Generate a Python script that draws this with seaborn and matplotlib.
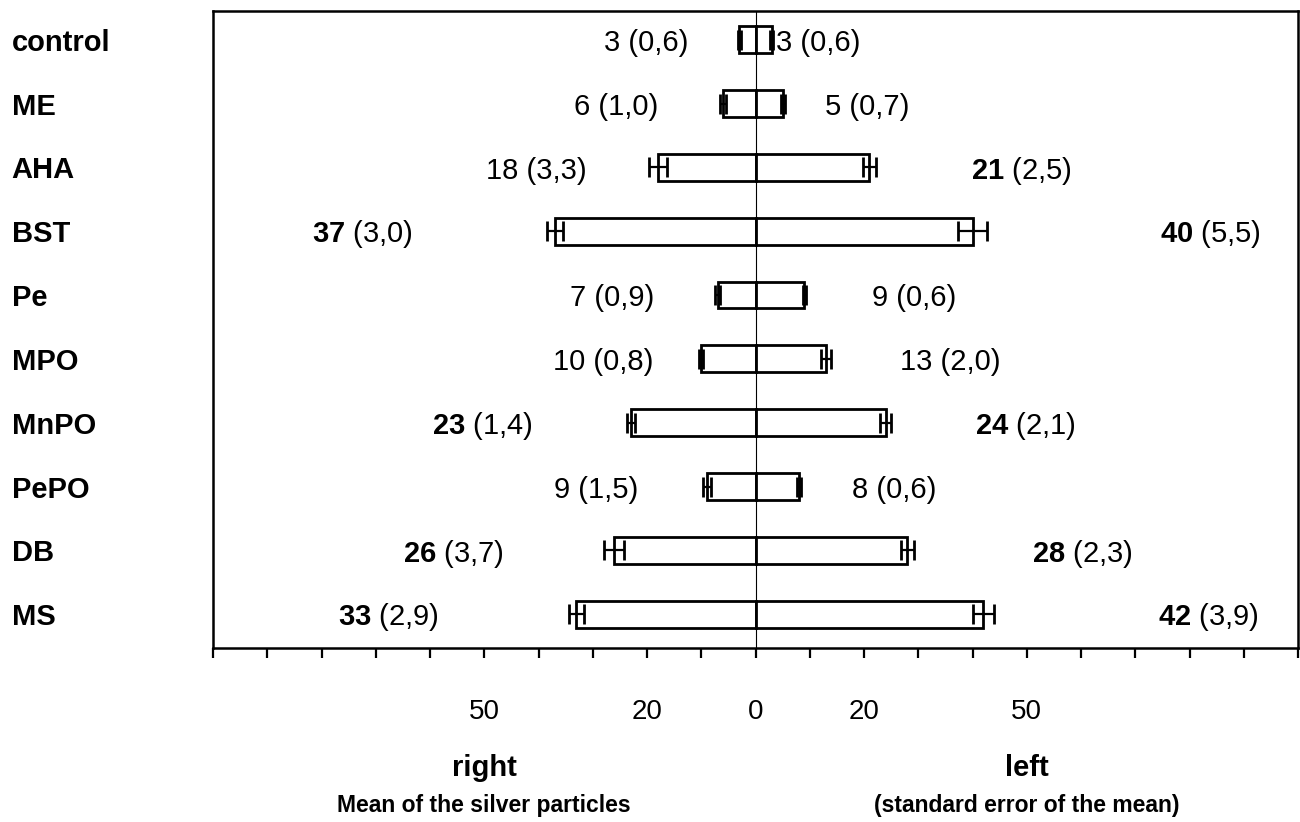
import numpy as np
import pandas as pd
import matplotlib
matplotlib.use("Agg")
import matplotlib.pyplot as plt
import matplotlib.transforms as mtransforms
import seaborn as sns

regions = ["control", "ME", "AHA", "BST", "Pe", "MPO", "MnPO", "PePO", "DB", "MS"]
right_mean = [3, 6, 18, 37, 7, 10, 23, 9, 26, 33]
right_sem = [0.6, 1.0, 3.3, 3.0, 0.9, 0.8, 1.4, 1.5, 3.7, 2.9]
left_mean = [3, 5, 21, 40, 9, 13, 24, 8, 28, 42]
left_sem = [0.6, 0.7, 2.5, 5.5, 0.6, 2.0, 2.1, 0.6, 2.3, 3.9]
right_bold = [False, False, False, True, False, False, True, False, True, True]
left_bold = [False, False, True, True, False, False, True, False, True, True]
# where the value labels sit (data units, label centre)
right_lab_x = [-20.1, -25.6, -40.4, -72.4, -26.5, -28.0, -50.3, -29.3, -55.7, -67.6]
left_lab_x = [11.6, 20.6, 49.0, 83.9, 29.3, 35.9, 49.7, 25.6, 60.3, 83.4]
tick_vals = [-50, -20, 0, 20, 50]
tick_text = ["50", "20", "0", "20", "50"]

sns.set_style("white")
plt.rcParams["font.family"] = ["Liberation Sans", "DejaVu Sans"]
plt.rcParams["text.color"] = "black"
plt.rcParams["xtick.color"] = "black"
plt.rcParams["ytick.color"] = "black"
plt.rcParams["mathtext.fontset"] = "custom"
plt.rcParams["mathtext.rm"] = "Liberation Sans"
plt.rcParams["mathtext.bf"] = "Liberation Sans:bold"

df = pd.DataFrame({
    "region": regions * 2,
    "value": [-v for v in right_mean] + left_mean,
    "side": ["right"] * len(regions) + ["left"] * len(regions),
})

fig = plt.figure(figsize=(13, 8.22), dpi=100)
ax = fig.add_axes([213 / 1300, 1 - 648 / 822, 1085 / 1300, 637 / 822])

sns.barplot(data=df, x="value", y="region", hue="side", dodge=False, orient="h",
            width=0.42, palette={"right": "white", "left": "white"}, edgecolor="black",
            linewidth=2, errorbar=None, legend=False, saturation=1, ax=ax)

pos = np.arange(len(regions))
ax.errorbar(-np.array(right_mean), pos, xerr=np.array(right_sem) / 2, fmt="none",
            ecolor="black", elinewidth=1.6, capsize=7.5, capthick=2)
ax.errorbar(np.array(left_mean), pos, xerr=np.array(left_sem) / 2, fmt="none",
            ecolor="black", elinewidth=1.6, capsize=7.5, capthick=2)
ax.axvline(0, color="black", lw=0.8, zorder=0)

for i in range(len(regions)):
    r = f"$\\mathbf{{{right_mean[i]}}}$" if right_bold[i] else f"{right_mean[i]}"
    l = f"$\\mathbf{{{left_mean[i]}}}$" if left_bold[i] else f"{left_mean[i]}"
    ax.text(right_lab_x[i], i + 0.05, r + " (" + str(right_sem[i]).replace(".", ",") + ")",
            ha="center", va="center", fontsize=21)
    ax.text(left_lab_x[i], i + 0.05, l + " (" + str(left_sem[i]).replace(".", ",") + ")",
            ha="center", va="center", fontsize=21)

ax.set_xlim(-100, 100)
ax.set_ylim(9.53, -0.45)
ax.set_xticks(np.arange(-100, 101, 10))
ax.set_xticklabels([tick_text[tick_vals.index(t)] if t in tick_vals else "" for t in range(-100, 101, 10)],
                   fontsize=20)
ax.tick_params(axis="x", direction="out", length=7, width=1.6, pad=30, bottom=True)
ax.tick_params(axis="y", length=0, pad=145)
for lbl in ax.get_yticklabels():
    lbl.set_ha("left")
    lbl.set_fontweight("bold")
    lbl.set_fontsize(21)
ax.set_xlabel("")
ax.set_ylabel("")
for s in ax.spines.values():
    s.set_visible(True)
    s.set_color("black")
    s.set_linewidth(1.8)

trans = mtransforms.blended_transform_factory(ax.transData, fig.transFigure)
ax.text(-50, 1 - 768 / 822, "right", transform=trans, ha="center", va="center", fontsize=21,
        fontweight="bold")
ax.text(50, 1 - 768 / 822, "left", transform=trans, ha="center", va="center", fontsize=21,
        fontweight="bold")
ax.text(-50, 1 - 805 / 822, "Mean of the silver particles", transform=trans, ha="center", va="center",
        fontsize=16.5, fontweight="bold")
ax.text(50, 1 - 805 / 822, "(standard error of the mean)", transform=trans, ha="center", va="center",
        fontsize=16.5, fontweight="bold")

fig.savefig("out.png", dpi=100)
